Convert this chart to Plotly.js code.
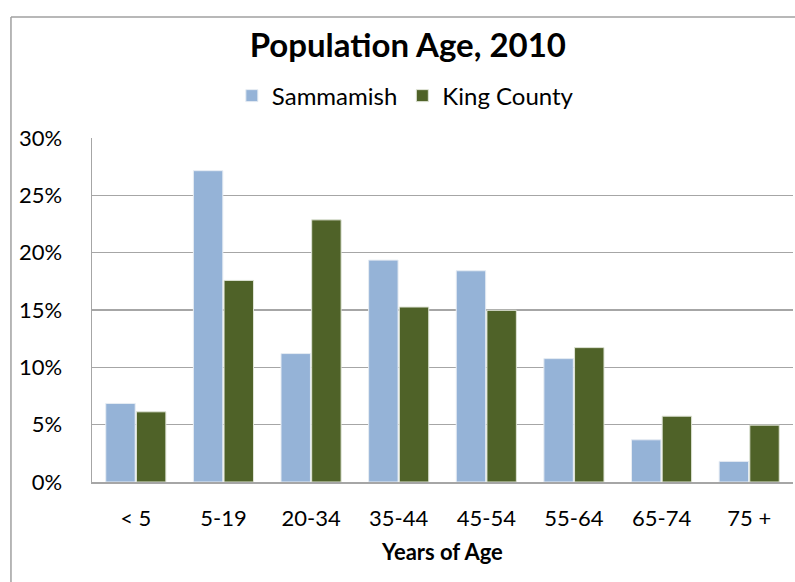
<!DOCTYPE html>
<html>
<head>
<meta charset="utf-8">
<script src="https://cdn.plot.ly/plotly-3.0.1.min.js"></script>
<style>html,body{margin:0;padding:0;background:#fff;}#chart{width:795px;height:582px;}</style>
</head>
<body>
<div id="chart"></div>
<script>
const categories = ["< 5", "5-19", "20-34", "35-44", "45-54", "55-64", "65-74", "75 +"];
const sammamish = [0.0685, 0.2715, 0.112, 0.1935, 0.1842, 0.1076, 0.0368, 0.018];
const kingCounty = [0.0612, 0.1758, 0.2286, 0.1526, 0.1497, 0.1172, 0.0574, 0.0496];
const yTicks = [0, 0.05, 0.10, 0.15, 0.20, 0.25, 0.30];

const FONT = "Lato, 'Open Sans', sans-serif";

const traces = [
  {type: "bar", name: "Sammamish", x: categories, y: sammamish,
   marker: {color: "#95B3D7", line: {color: "#e6ecf3", width: 1}}},
  {type: "bar", name: "King County", x: categories, y: kingCounty,
   marker: {color: "#4F6228", line: {color: "#dfe4d6", width: 1}}}
];

const layout = {
  width: 795, height: 582,
  margin: {l: 92, r: 2, t: 138, b: 100},
  paper_bgcolor: "#fff", plot_bgcolor: "#fff",
  font: {family: FONT, color: "#000"},
  barmode: "group", bargap: 0.30, bargroupgap: 0.04,
  title: {text: "<b>Population Age, 2010</b>", font: {size: 33, family: FONT, color: "#000"},
          x: 0.513, xanchor: "center", xref: "container", y: 0.922, yanchor: "middle", yref: "container"},
  showlegend: true,
  legend: {orientation: "h", x: 0.447, xanchor: "center", y: 1.122, yanchor: "middle",
           font: {size: 24, family: FONT, color: "#000"}, itemwidth: 30, bgcolor: "rgba(0,0,0,0)"},
  xaxis: {
    type: "category", showgrid: false, zeroline: false,
    showline: true, linecolor: "#a6a6a6", linewidth: 1.5,
    tickfont: {size: 22, family: FONT, color: "#000"}, ticks: "", ticklabelstandoff: 16,
    title: {text: "<b>Years of Age</b>", font: {size: 22, family: FONT, color: "#000"}, standoff: 14}
  },
  yaxis: {
    range: [0, 0.30], tickvals: yTicks, tickformat: ".0%",
    showgrid: true, gridcolor: "#a6a6a6", gridwidth: 1.5, zeroline: false,
    showline: true, linecolor: "#a6a6a6", linewidth: 1.5,
    tickfont: {size: 22, family: FONT, color: "#000"}, ticks: "", ticklabelstandoff: 24
  },
  shapes: [
    {type: "line", xref: "paper", yref: "paper", x0: -0.1156, x1: -0.1156, y0: -0.30, y1: 1.352,
     line: {color: "#a0a0a0", width: 1.5}},
    {type: "line", xref: "paper", yref: "paper", x0: -0.1156, x1: 1.01, y0: 1.352, y1: 1.352,
     line: {color: "#a0a0a0", width: 1.5}}
  ]
};

Plotly.newPlot("chart", traces, layout, {displayModeBar: false, staticPlot: true});
</script>
</body>
</html>
